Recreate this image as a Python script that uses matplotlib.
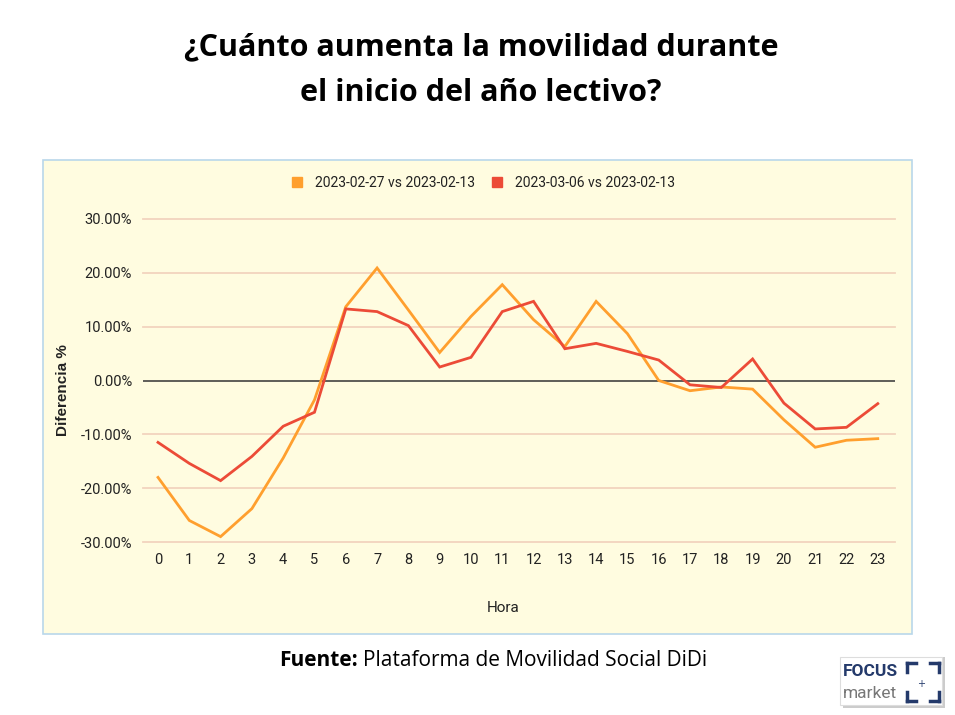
import matplotlib
matplotlib.use("Agg")
import matplotlib.pyplot as plt
from matplotlib.patches import Rectangle
from matplotlib.lines import Line2D

hours = list(range(24))
serie_a_label = "2023-02-27 vs 2023-02-13"
serie_b_label = "2023-03-06 vs 2023-02-13"
serie_a = [-18.0, -26.0, -29.0, -23.8, -14.4, -3.6, 13.7, 20.9, 13.1, 5.2, 11.9, 17.8,
           11.3, 6.3, 14.7, 8.7, 0.0, -1.9, -1.2, -1.6, -7.3, -12.4, -11.1, -10.8]
serie_b = [-11.5, -15.4, -18.6, -14.1, -8.5, -5.9, 13.3, 12.8, 10.2, 2.5, 4.3, 12.8,
           14.7, 5.9, 6.9, 5.4, 3.8, -0.8, -1.3, 4.0, -4.2, -9.0, -8.7, -4.3]
yticks = [-30, -20, -10, 0, 10, 20, 30]
ytick_labels = ["-30.00%", "-20.00%", "-10.00%", "0.00%", "10.00%", "20.00%", "30.00%"]

W, H = 955, 715
fig = plt.figure(figsize=(W / 100, H / 100), dpi=100)
fig.patch.set_facecolor("white")

def fx(px):
    return px / W

def fy(py):
    return 1 - py / H

# chart panel background
fig.patches.append(Rectangle((fx(43), fy(634)), fx(912) - fx(43), fy(160) - fy(634),
                             transform=fig.transFigure, facecolor="#FFFCE0",
                             edgecolor="#B9D7EA", linewidth=1.2, zorder=-5))

# title
fig.text(fx(481), fy(47), "¿Cuánto aumenta la movilidad durante", ha="center", va="center",
         fontsize=22, fontweight="bold", family="Open Sans", color="black")
fig.text(fx(481), fy(93), "el inicio del año lectivo?", ha="center", va="center",
         fontsize=22, fontweight="bold", family="Open Sans", color="black")

ax = fig.add_axes([fx(143), fy(542), fx(895) - fx(143), fy(219) - fy(542)])
ax.set_facecolor("none")
ax.set_zorder(2)
orange = "#FF9F2E"
red = "#EC4B37"
ax.plot(hours, serie_a, color=orange, lw=2.0, zorder=3, solid_joinstyle="miter")
ax.plot(hours, serie_b, color=red, lw=2.0, zorder=4, solid_joinstyle="miter")
ax.set_xlim(-0.48, 23.55)
ax.set_ylim(-30, 30)
for v in yticks:
    if v == 0:
        ax.axhline(v, color="#333333", lw=1.1, zorder=2)
    else:
        ax.axhline(v, color="#F2D4BE", lw=1.3, zorder=1, clip_on=False)
for s in ax.spines.values():
    s.set_visible(False)
ax.set_xticks(hours)
ax.set_xticklabels([str(h) for h in hours], family="Roboto", fontsize=10.5, color="#222222")
ax.set_yticks(yticks)
ax.set_yticklabels(ytick_labels, family="Roboto", fontsize=10.5, color="#222222")
ax.tick_params(length=0, pad=8)
ax.tick_params(axis="y", pad=8)
ax.set_xlabel("Hora", family="Roboto", fontsize=11, color="#222222")
ax.xaxis.set_label_coords((503 - 143) / 752, (542 - 601) / 323)
ax.set_ylabel("Diferencia %", family="Liberation Sans", fontsize=11, fontweight="bold",
              color="#222222")
ax.yaxis.set_label_coords((70 - 143) / 752, (542 - 390) / 323)

handles = [Line2D([], [], color=orange, marker="s", linestyle="none", markersize=7),
           Line2D([], [], color=red, marker="s", linestyle="none", markersize=7)]
fig.legend(handles, [serie_a_label, serie_b_label], loc="center", bbox_to_anchor=(fx(479), fy(183)),
           ncol=2, frameon=False, prop={"family": "Roboto", "size": 10}, handletextpad=0.3,
           columnspacing=0.6, labelcolor="#222222")

# footer
t1 = fig.text(fx(279), fy(661), "Fuente:", ha="left", va="center", fontsize=15, fontweight="bold",
              family="Open Sans", color="black")
fig.canvas.draw()
bb = t1.get_window_extent()
fig.text((bb.x1 + 5) / W, fy(661), "Plataforma de Movilidad Social DiDi", ha="left", va="center",
         fontsize=15, family="Open Sans", color="black")

# logo
fig.patches.append(Rectangle((fx(843), fy(708)), fx(102), fy(657) - fy(708),
                             transform=fig.transFigure, facecolor="#CCCCCC", edgecolor="none",
                             zorder=1))
fig.patches.append(Rectangle((fx(840), fy(705)), fx(102), fy(657) - fy(705),
                             transform=fig.transFigure, facecolor="white", edgecolor="#DDDDDD",
                             lw=0.8, zorder=2))
navy = "#243A6B"
fig.text(fx(843), fy(671), "FOCUS", ha="left", va="center", fontsize=12.5, fontweight="bold",
         family="Roboto", color=navy, zorder=3)
fig.text(fx(843), fy(693), "market", ha="left", va="center", fontsize=12.5, family="Roboto",
         color="#777777", zorder=3)
for (x0, y0, dx, dy) in [(907, 663, 1, 1), (939, 663, -1, 1), (907, 701, 1, -1), (939, 701, -1, -1)]:
    fig.lines.append(Line2D([fx(x0), fx(x0 + 9 * dx)], [fy(y0), fy(y0)], transform=fig.transFigure,
                            color=navy, lw=2.5, zorder=3))
    fig.lines.append(Line2D([fx(x0), fx(x0)], [fy(y0), fy(y0 + 9 * dy)], transform=fig.transFigure,
                            color=navy, lw=2.5, zorder=3))
fig.text(fx(921), fy(684), "+", ha="center", va="center", fontsize=7, color=navy, zorder=3)

fig.savefig("out.png", dpi=100)
